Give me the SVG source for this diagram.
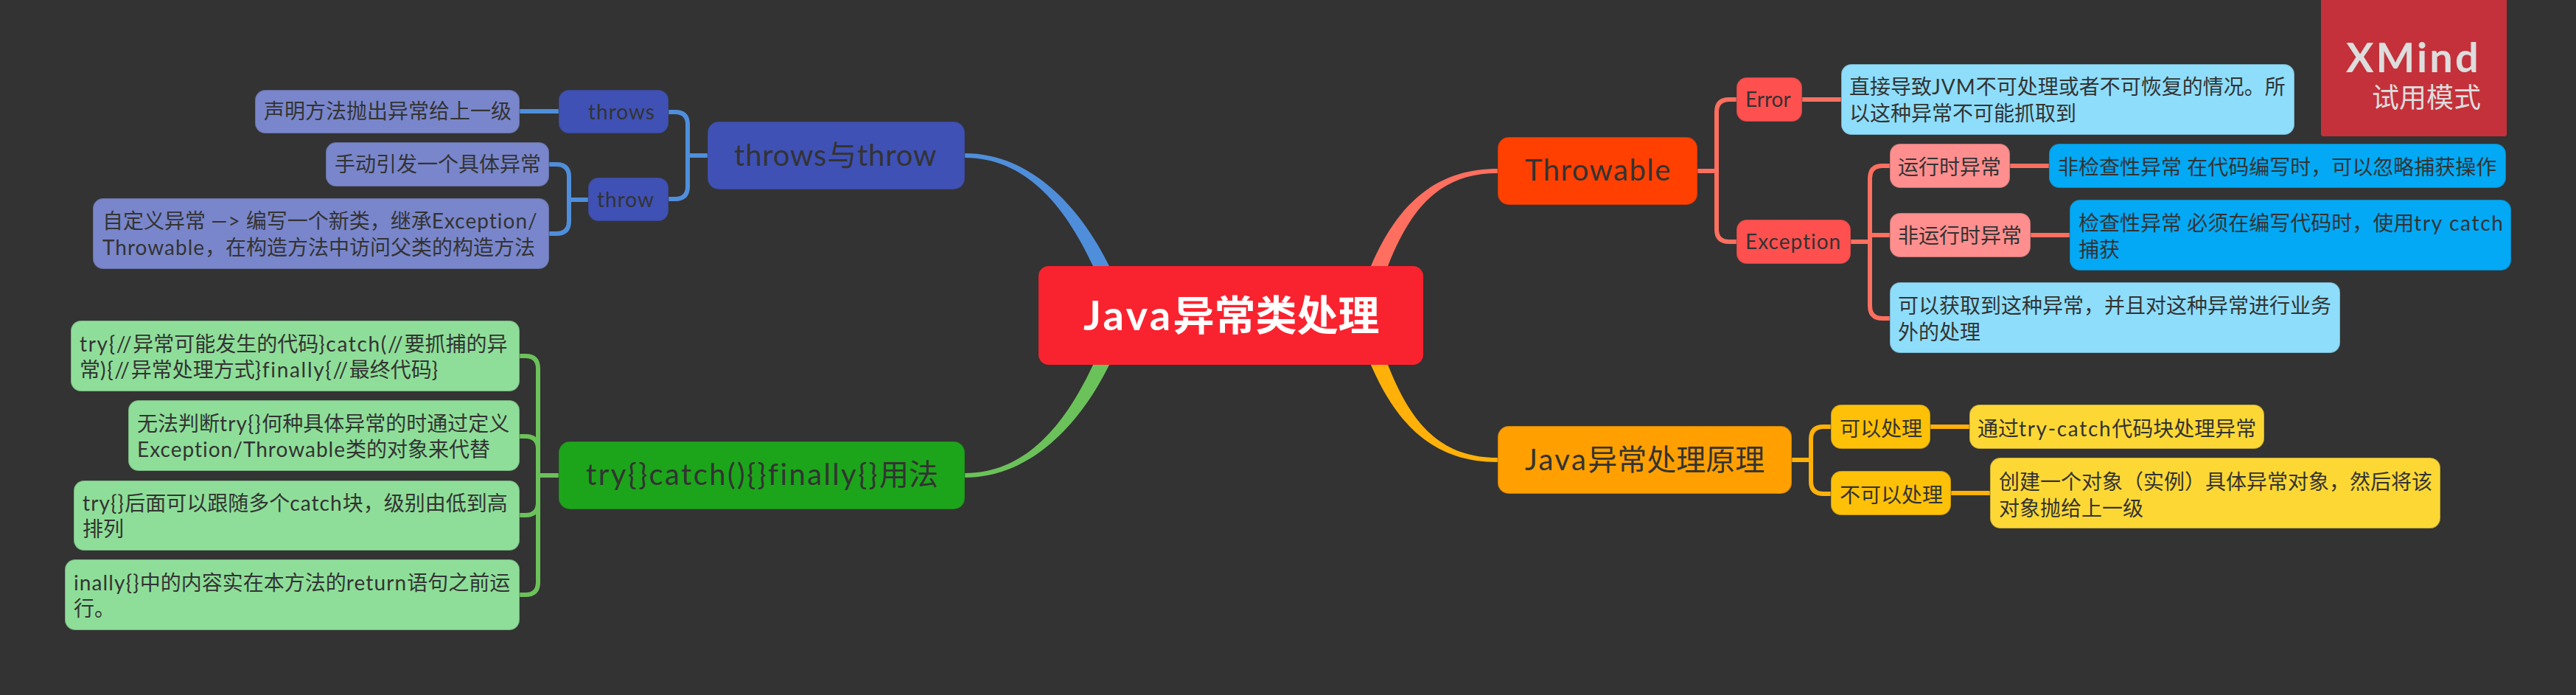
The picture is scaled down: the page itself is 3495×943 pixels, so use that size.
<svg xmlns="http://www.w3.org/2000/svg" width="3495" height="943" viewBox="0 0 3495 943">
<style>
text{font-family:Lato,"Noto Sans CJK SC",sans-serif;font-size:28px;fill:#333}
.m text{font-size:40px}
.n rect{stroke:#333;stroke-opacity:.25;stroke-width:2}
.w{letter-spacing:.036em}
.v{letter-spacing:.06em}
.u{letter-spacing:.04em}
.l{fill:none;stroke-width:6;stroke-linecap:butt}
.b{stroke:#4F8EDB}.g{stroke:#6CC25A}.r{stroke:#FF6F5F}.y{stroke:#FFB10A}
</style>
<rect width="3495" height="943" fill="#333"/>
<g id="connectors">
<path fill="#4F8EDB" d="M1309 208C1398 208 1465 280 1505 361L1483 361C1445 280 1392 214 1309 214Z"/>
<path fill="#6CC25A" d="M1309 648C1398 648 1465 576 1505 495L1483 495C1445 576 1392 642 1309 642Z"/>
<path fill="#FF6F5F" d="M2032 229C1945 229 1895 280 1860 361L1883 361C1915 280 1955 235 2032 235Z"/>
<path fill="#FFB10A" d="M2032 627C1945 627 1895 576 1860 495L1883 495C1915 576 1955 621 2032 621Z"/>
<path class="l b" d="M907 152H916Q933 152 933 169V253Q933 270 916 270H907M933 211H960"/>
<path class="l b" d="M705 151H758"/>
<path class="l b" d="M745 223H755Q772 223 772 240V300Q772 317 755 317H745M772 271H798"/>
<path class="l g" d="M705 483H713Q730 483 730 500V790Q730 807 713 807H705M705 592H713Q730 592 730 609M705 699H713Q730 699 730 682M730 645H758"/>
<path class="l r" d="M2356 135H2346Q2329 135 2329 152V311Q2329 328 2346 328H2356M2303 232H2329"/>
<path class="l r" d="M2445 135H2498M2727 225H2780M2755 319H2808"/>
<path class="l r" d="M2564 225H2554Q2537 225 2537 242V415Q2537 432 2554 432H2564M2511 328H2537M2537 319H2564"/>
<path class="l y" d="M2484 579H2474Q2457 579 2457 596V653Q2457 670 2474 670H2484M2431 624H2457"/>
<path class="l y" d="M2619 579H2672M2647 669H2700"/>
</g>
<g id="central"><rect x="1409" y="361" width="522" height="134" rx="14" fill="#F9232F"/><text x="1470" y="448" style="font-size:56px;font-weight:700;fill:#fff"><tspan class="v">Java</tspan>异常类处理</text></g>
<g id="throws-throw" class="m n"><rect x="960" y="165" width="349" height="92" rx="15" fill="#3F51B5"/><text x="996" y="225" style="letter-spacing:.02em">throws与throw</text></g>
<g id="throws" class="n"><rect x="758" y="122" width="149" height="59" rx="14" fill="#3F51B5"/><text x="798" y="162" class="w">throws</text></g>
<g id="throw" class="n"><rect x="798" y="241" width="109" height="59" rx="14" fill="#3F51B5"/><text x="810" y="281" class="w">throw</text></g>
<g id="t1" class="n"><rect x="346" y="122" width="359" height="59" rx="14" fill="#7986CB"/><text x="358" y="161">声明方法抛出异常给上一级</text></g>
<g id="t2" class="n"><rect x="442" y="193" width="303" height="60" rx="14" fill="#7986CB"/><text x="454" y="233">手动引发一个具体异常</text></g>
<g id="t3" class="n"><rect x="126" y="269" width="619" height="96" rx="14" fill="#7986CB"/><text x="139" y="310">自定义异常 <tspan class="w">—&gt;</tspan> 编写一个新类，继承<tspan class="w">Exception/</tspan></text><text x="139" y="346"><tspan class="w">Throwable</tspan>，在构造方法中访问父类的构造方法</text></g>
<g id="try-main" class="m n"><rect x="758" y="599" width="551" height="92" rx="15" fill="#1CA51A"/><text x="795" y="658"><tspan class="v">try{}catch(){}finally{}</tspan>用法</text></g>
<g id="c1" class="n"><rect x="96" y="435" width="609" height="96" rx="14" fill="#8EDE99"/><text x="108" y="477"><tspan class="v">try{//</tspan>异常可能发生的代码<tspan class="v">}catch(//</tspan>要抓捕的异</text><text x="108" y="512">常<tspan class="v">){//</tspan>异常处理方式<tspan class="v">}finally{//</tspan>最终代码<tspan class="v">}</tspan></text></g>
<g id="c2" class="n"><rect x="174" y="543" width="531" height="96" rx="14" fill="#8EDE99"/><text x="186" y="585">无法判断<tspan class="u">try{}</tspan>何种具体异常的时通过定义</text><text x="186" y="620"><tspan class="w">Exception/Throwable</tspan>类的对象来代替</text></g>
<g id="c3" class="n"><rect x="100" y="652" width="605" height="95" rx="14" fill="#8EDE99"/><text x="112" y="693"><tspan class="u">try{}</tspan>后面可以跟随多个<tspan class="u">catch</tspan>块，级别由低到高</text><text x="112" y="728">排列</text></g>
<g id="c4" class="n"><rect x="88" y="759" width="617" height="96" rx="14" fill="#8EDE99"/><text x="100" y="801"><tspan class="u">inally{}</tspan>中的内容实在本方法的<tspan class="u">return</tspan>语句之前运</text><text x="100" y="836">行。</text></g>
<g id="throwable" class="m n"><rect x="2032" y="186" width="271" height="92" rx="15" fill="#FF4000"/><text x="2069" y="245" class="w">Throwable</text></g>
<g id="error" class="n"><rect x="2356" y="105" width="89" height="60" rx="14" fill="#FF5050"/><text x="2368" y="145">Error</text></g>
<g id="error-d" class="n"><rect x="2498" y="87" width="615" height="96" rx="14" fill="#8EDEFB"/><text x="2509" y="128">直接导致<tspan class="w">JVM</tspan>不可处理或者不可恢复的情况。所</text><text x="2509" y="164">以这种异常不可能抓取到</text></g>
<g id="exception" class="n"><rect x="2356" y="298" width="155" height="60" rx="14" fill="#FF5050"/><text x="2368" y="338" class="w">Exception</text></g>
<g id="rt" class="n"><rect x="2564" y="195" width="163" height="60" rx="14" fill="#FF8F8F"/><text x="2575" y="237">运行时异常</text></g>
<g id="rt-d" class="n"><rect x="2780" y="195" width="620" height="60" rx="14" fill="#03A9F4"/><text x="2792" y="237">非检查性异常 在代码编写时，可以忽略捕获操作</text></g>
<g id="nrt" class="n"><rect x="2564" y="289" width="191" height="60" rx="14" fill="#FF8F8F"/><text x="2575" y="330">非运行时异常</text></g>
<g id="nrt-d" class="n"><rect x="2808" y="271" width="599" height="96" rx="14" fill="#03A9F4"/><text x="2820" y="313">检查性异常 必须在编写代码时，使用<tspan class="v">try catch</tspan></text><text x="2820" y="349">捕获</text></g>
<g id="ex-d" class="n"><rect x="2564" y="383" width="611" height="96" rx="14" fill="#8EDEFB"/><text x="2575" y="425">可以获取到这种异常，并且对这种异常进行业务</text><text x="2575" y="461">外的处理</text></g>
<g id="principle" class="m n"><rect x="2032" y="578" width="399" height="92" rx="15" fill="#FFA000"/><text x="2069" y="638"><tspan class="v">Java</tspan>异常处理原理</text></g>
<g id="can" class="n"><rect x="2484" y="549" width="135" height="60" rx="14" fill="#FFC107"/><text x="2496" y="592">可以处理</text></g>
<g id="can-d" class="n"><rect x="2672" y="549" width="400" height="60" rx="14" fill="#FDD835"/><text x="2683" y="592">通过<tspan class="v">try-catch</tspan>代码块处理异常</text></g>
<g id="cannot" class="n"><rect x="2484" y="639" width="163" height="60" rx="14" fill="#FFC107"/><text x="2496" y="682">不可以处理</text></g>
<g id="cannot-d" class="n"><rect x="2700" y="621" width="611" height="96" rx="14" fill="#FDD835"/><text x="2712" y="664">创建一个对象（实例）具体异常对象，然后将该</text><text x="2712" y="700">对象抛给上一级</text></g>
<g id="watermark"><rect x="3149" y="-3" width="252" height="188" rx="3" fill="#C4313A"/><text x="3183" y="98" style="font-size:56px;font-weight:700;letter-spacing:3px;fill:#ddd">XMind</text><text x="3218" y="146" style="font-size:37px;fill:#ddd">试用模式</text></g>
</svg>
